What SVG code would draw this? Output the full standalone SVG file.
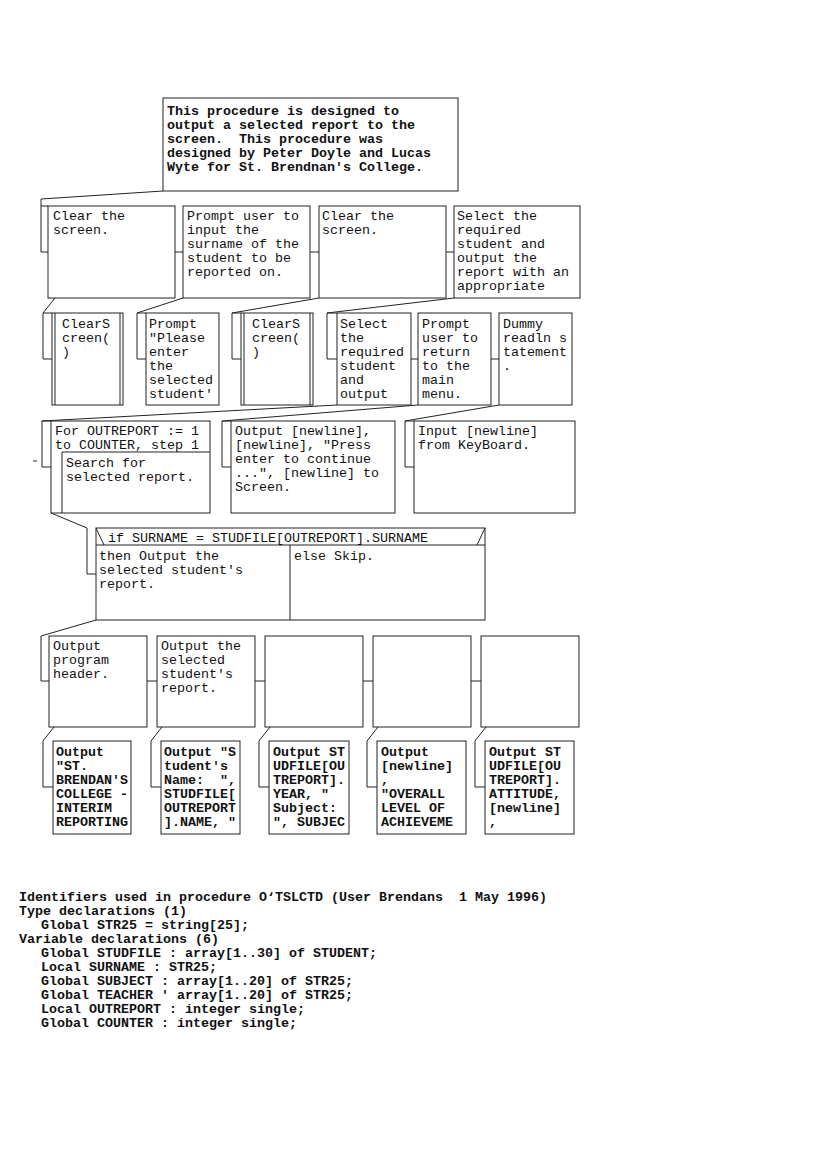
<svg xmlns="http://www.w3.org/2000/svg" width="827" height="1170" viewBox="0 0 827 1170">
<style>
.bg{fill:#fff}
.box{fill:#fff;stroke:#222;stroke-width:1}
.ln{fill:none;stroke:#222;stroke-width:1}
.t{font-family:"Liberation Mono","DejaVu Sans Mono",monospace;font-size:13.33px;fill:#111}
.b{font-weight:bold}
</style>
<rect class="bg" x="0" y="0" width="827" height="1170"/>
<g id="connectors">
<path class="ln" d="M163,191 L41,199 V252 H48 M41,206 H48"/>
<path class="ln" d="M175,252 H183 M310,252 H319 M446,252 H454"/>
<path class="ln" d="M55,298 L43,313 V359 H52 M43,313 H52"/>
<path class="ln" d="M183,298 L137,313 V359 H146 M137,313 H146"/>
<path class="ln" d="M319,298 L232,313 V359 H241 M232,313 H241"/>
<path class="ln" d="M454,298 L327,313 V359 H337 M327,313 H337"/>
<path class="ln" d="M411,359 H418 M491,359 H499"/>
<path class="ln" d="M337,405 L42,421 V467 H51 M42,421 H51 M33,461 H37"/>
<path class="ln" d="M418,405 L222,421 V467 H231 M222,421 H231"/>
<path class="ln" d="M499,405 L405,421 V467 H414 M405,421 H414"/>
<path class="ln" d="M51,513 L87,528 V574 H96"/>
<path class="ln" d="M96,620 L41,636 V681 H49"/>
<path class="ln" d="M147,681 H157 M255,681 H265 M363,681 H373 M471,681 H481"/>
<path class="ln" d="M54,727 L43,741 V787 H53"/>
<path class="ln" d="M162,727 L151,741 V787 H161"/>
<path class="ln" d="M270,727 L259,741 V787 H269"/>
<path class="ln" d="M378,727 L367,741 V787 H377"/>
<path class="ln" d="M486,727 L475,741 V787 H485"/>
</g>
<g id="n0">
<rect class="box" x="163" y="98" width="295" height="93"/>
<text class="t b" x="167" y="115" xml:space="preserve"><tspan x="167" y="115">This procedure is designed to</tspan><tspan x="167" y="129">output a selected report to the</tspan><tspan x="167" y="143">screen.  This procedure was</tspan><tspan x="167" y="157">designed by Peter Doyle and Lucas</tspan><tspan x="167" y="171">Wyte for St. Brendnan's College.</tspan></text>
</g>
<g id="n1">
<rect class="box" x="48" y="206" width="127" height="92"/>
<text class="t"><tspan x="53" y="220">Clear the</tspan><tspan x="53" y="234">screen.</tspan></text>
</g>
<g id="n2">
<rect class="box" x="183" y="206" width="127" height="92"/>
<text class="t"><tspan x="187" y="220">Prompt user to</tspan><tspan x="187" y="234">input the</tspan><tspan x="187" y="248">surname of the</tspan><tspan x="187" y="262">student to be</tspan><tspan x="187" y="276">reported on.</tspan></text>
</g>
<g id="n3">
<rect class="box" x="319" y="206" width="127" height="92"/>
<text class="t"><tspan x="322" y="220">Clear the</tspan><tspan x="322" y="234">screen.</tspan></text>
</g>
<g id="n4">
<rect class="box" x="454" y="206" width="126" height="92"/>
<text class="t"><tspan x="457" y="220">Select the</tspan><tspan x="457" y="234">required</tspan><tspan x="457" y="248">student and</tspan><tspan x="457" y="262">output the</tspan><tspan x="457" y="276">report with an</tspan><tspan x="457" y="290">appropriate</tspan></text>
</g>
<g id="n5">
<rect class="box" x="52" y="313" width="71" height="92"/>
<path class="ln" d="M55,313 V405 M120,313 V405"/>
<text class="t"><tspan x="62" y="328">ClearS</tspan><tspan x="62" y="342">creen(</tspan><tspan x="62" y="356">)</tspan></text>
</g>
<g id="n6">
<rect class="box" x="146" y="313" width="73" height="92"/>
<text class="t"><tspan x="149" y="328">Prompt</tspan><tspan x="149" y="342">"Please</tspan><tspan x="149" y="356">enter</tspan><tspan x="149" y="370">the</tspan><tspan x="149" y="384">selected</tspan><tspan x="149" y="398">student'</tspan></text>
</g>
<g id="n7">
<rect class="box" x="241" y="313" width="72" height="92"/>
<path class="ln" d="M244,313 V405 M310,313 V405"/>
<text class="t"><tspan x="252" y="328">ClearS</tspan><tspan x="252" y="342">creen(</tspan><tspan x="252" y="356">)</tspan></text>
</g>
<g id="n8">
<rect class="box" x="337" y="313" width="74" height="92"/>
<text class="t"><tspan x="340" y="328">Select</tspan><tspan x="340" y="342">the</tspan><tspan x="340" y="356">required</tspan><tspan x="340" y="370">student</tspan><tspan x="340" y="384">and</tspan><tspan x="340" y="398">output</tspan></text>
</g>
<g id="n9">
<rect class="box" x="418" y="313" width="73" height="92"/>
<text class="t"><tspan x="422" y="328">Prompt</tspan><tspan x="422" y="342">user to</tspan><tspan x="422" y="356">return</tspan><tspan x="422" y="370">to the</tspan><tspan x="422" y="384">main</tspan><tspan x="422" y="398">menu.</tspan></text>
</g>
<g id="n10">
<rect class="box" x="499" y="313" width="73" height="92"/>
<text class="t"><tspan x="503" y="328">Dummy</tspan><tspan x="503" y="342">readln s</tspan><tspan x="503" y="356">tatement</tspan><tspan x="503" y="370">.</tspan></text>
</g>
<g id="n11">
<rect class="box" x="51" y="421" width="159" height="92"/>
<path class="ln" d="M62,513 V452 H210"/>
<text class="t"><tspan x="55" y="435">For OUTREPORT := 1</tspan><tspan x="55" y="449">to COUNTER, step 1</tspan></text>
<text class="t"><tspan x="66" y="467">Search for</tspan><tspan x="66" y="481">selected report.</tspan></text>
</g>
<g id="n12">
<rect class="box" x="231" y="421" width="164" height="92"/>
<text class="t"><tspan x="235" y="435">Output [newline],</tspan><tspan x="235" y="449">[newline], "Press</tspan><tspan x="235" y="463">enter to continue</tspan><tspan x="235" y="477">...", [newline] to</tspan><tspan x="235" y="491">Screen.</tspan></text>
</g>
<g id="n13">
<rect class="box" x="414" y="421" width="161" height="92"/>
<text class="t"><tspan x="418" y="435">Input [newline]</tspan><tspan x="418" y="449">from KeyBoard.</tspan></text>
</g>
<g id="n14">
<rect class="box" x="96" y="528" width="389" height="92"/>
<path class="ln" d="M96,545 H485 M290,545 V620 M96,528 L104,545 M485,528 L477,545"/>
<text class="t" x="108" y="542">if SURNAME = STUDFILE[OUTREPORT].SURNAME</text>
<text class="t"><tspan x="99" y="560">then Output the</tspan><tspan x="99" y="574">selected student's</tspan><tspan x="99" y="588">report.</tspan></text>
<text class="t" x="294" y="560">else Skip.</text>
</g>
<g id="n15">
<rect class="box" x="49" y="636" width="98" height="91"/>
<text class="t"><tspan x="53" y="650">Output</tspan><tspan x="53" y="664">program</tspan><tspan x="53" y="678">header.</tspan></text>
</g>
<g id="n16">
<rect class="box" x="157" y="636" width="98" height="91"/>
<text class="t"><tspan x="161" y="650">Output the</tspan><tspan x="161" y="664">selected</tspan><tspan x="161" y="678">student's</tspan><tspan x="161" y="692">report.</tspan></text>
</g>
<g id="n17"><rect class="box" x="265" y="636" width="98" height="91"/></g>
<g id="n18"><rect class="box" x="373" y="636" width="98" height="91"/></g>
<g id="n19"><rect class="box" x="481" y="636" width="98" height="91"/></g>
<g id="n20">
<rect class="box" x="53" y="741" width="78" height="93"/>
<text class="t b"><tspan x="56" y="756">Output</tspan><tspan x="56" y="770">"ST.</tspan><tspan x="56" y="784">BRENDAN'S</tspan><tspan x="56" y="798">COLLEGE -</tspan><tspan x="56" y="812">INTERIM</tspan><tspan x="56" y="826">REPORTING</tspan></text>
</g>
<g id="n21">
<rect class="box" x="161" y="741" width="79" height="93"/>
<text class="t b" xml:space="preserve"><tspan x="164" y="756">Output "S</tspan><tspan x="164" y="770">tudent's</tspan><tspan x="164" y="784">Name:  ",</tspan><tspan x="164" y="798">STUDFILE[</tspan><tspan x="164" y="812">OUTREPORT</tspan><tspan x="164" y="826">].NAME, "</tspan></text>
</g>
<g id="n22">
<rect class="box" x="269" y="741" width="80" height="93"/>
<text class="t b"><tspan x="273" y="756">Output ST</tspan><tspan x="273" y="770">UDFILE[OU</tspan><tspan x="273" y="784">TREPORT].</tspan><tspan x="273" y="798">YEAR, "</tspan><tspan x="273" y="812">Subject:</tspan><tspan x="273" y="826">", SUBJEC</tspan></text>
</g>
<g id="n23">
<rect class="box" x="377" y="741" width="89" height="93"/>
<text class="t b"><tspan x="381" y="756">Output</tspan><tspan x="381" y="770">[newline]</tspan><tspan x="381" y="784">,</tspan><tspan x="381" y="798">"OVERALL</tspan><tspan x="381" y="812">LEVEL OF</tspan><tspan x="381" y="826">ACHIEVEME</tspan></text>
</g>
<g id="n24">
<rect class="box" x="485" y="741" width="89" height="93"/>
<text class="t b"><tspan x="489" y="756">Output ST</tspan><tspan x="489" y="770">UDFILE[OU</tspan><tspan x="489" y="784">TREPORT].</tspan><tspan x="489" y="798">ATTITUDE,</tspan><tspan x="489" y="812">[newline]</tspan><tspan x="489" y="826">,</tspan></text>
</g>
<g id="identifiers">
<text class="t b" xml:space="preserve"><tspan x="19" y="901">Identifiers used in procedure O‘TSLCTD (User Brendans  1 May 1996)</tspan><tspan x="19" y="915">Type declarations (1)</tspan><tspan x="41" y="929">Global STR25 = string[25];</tspan><tspan x="19" y="943">Variable declarations (6)</tspan><tspan x="41" y="957">Global STUDFILE : array[1..30] of STUDENT;</tspan><tspan x="41" y="971">Local SURNAME : STR25;</tspan><tspan x="41" y="985">Global SUBJECT : array[1..20] of STR25;</tspan><tspan x="41" y="999">Global TEACHER ' array[1..20] of STR25;</tspan><tspan x="41" y="1013">Local OUTREPORT : integer single;</tspan><tspan x="41" y="1027">Global COUNTER : integer single;</tspan></text>
</g>
</svg>
